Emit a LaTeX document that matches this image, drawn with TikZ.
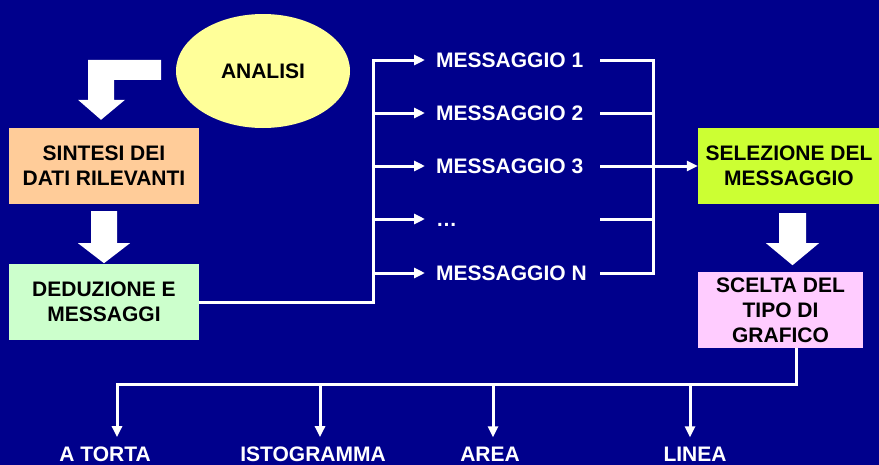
\documentclass[tikz,border=0pt]{standalone}
\usepackage{fontspec}
\setmainfont{Liberation Sans}
\usetikzlibrary{shapes.geometric}
\usetikzlibrary{arrows.meta}
\usetikzlibrary{calc,positioning}
\definecolor{navy}{RGB}{0,0,140}
\definecolor{royal}{RGB}{0,16,232}
\definecolor{cream}{RGB}{255,255,153}
\definecolor{peach}{RGB}{255,204,153}
\definecolor{mint}{RGB}{204,255,204}
\definecolor{lime}{RGB}{204,255,51}
\definecolor{lilac}{RGB}{255,204,255}
\tikzstyle{link} = [draw=white, line width=3pt]
\tikzstyle{feed} = [link, -{Triangle[length=11pt,width=10pt]}]
\tikzstyle{every block} = [draw=none, text=black, align=center, inner sep=0pt, minimum height=76pt, font=\fontsize{21}{25}\selectfont\bfseries]
\tikzstyle{block} = [rectangle, minimum width=190pt, every block]
\tikzstyle{bubble} = [ellipse, fill=cream, every block]
\tikzstyle{message} = [anchor=west, inner sep=0pt, text=white, text height=15pt, text depth=0pt, font=\fontsize{21}{25}\selectfont\bfseries]
\tikzstyle{chart} = [anchor=base, inner sep=0pt, text=white, font=\fontsize{21}{25}\selectfont\bfseries]
\tikzstyle{bigarrow} = [fill=white]
\begin{document}
\begin{tikzpicture} [x=1pt, y=-1pt]

% Background

\useasboundingbox (0,0) rectangle (879,464);
\clip (0,0) rectangle (879,464);
\shade[left color=navy, middle color=royal, right color=navy] (0,0) rectangle (879,464);

% Analysis and synthesis

\node[bubble, minimum width=174pt, minimum height=114pt] (analisi) at (263,71) {ANALISI};

\node[block, fill=peach] (sintesi) at (104,166) {SINTESI DEI\\DATI RILEVANTI};

\node[block, fill=mint] (deduzione) at (104,302) {DEDUZIONE E\\MESSAGGI};

\fill[bigarrow] ($(sintesi.north)+(57,-68)$) -- ++(-73,0) -- ++(0,40) -- ++(-10,0) -- ++(23,20) -- ++(24,-20) -- ++(-11,0) -- ++(0,-20) -- ++(47,0) -- cycle;

\fill[bigarrow] ($(sintesi.south)+(-13,7)$) -- ++(26,0) -- ++(0,32) -- ++(13,0) -- ++(-26,20) -- ++(-26,-20) -- ++(13,0) -- cycle;

% Messages

\node[message] (msga) at (436,60) {MESSAGGIO 1};
\node[message] (msgb) at (436,113) {MESSAGGIO 2};
\node[message] (msgc) at (436,166) {MESSAGGIO 3};
\node[message] (msgd) at (436,219) {…};
\node[message] (msgn) at (436,273) {MESSAGGIO N};

\coordinate (lbus) at (373,302);
\draw[feed, shorten >=11pt] (deduzione.east) -- (lbus) |- (msga.west);
\draw[feed, shorten >=11pt] (lbus |- msgb.west) -- (msgb.west);
\draw[feed, shorten >=11pt] (lbus |- msgc.west) -- (msgc.west);
\draw[feed, shorten >=11pt] (lbus |- msgd.west) -- (msgd.west);
\draw[feed, shorten >=11pt] (lbus |- msgn.west) -- (msgn.west);

% Selection

\node[block, fill=lime, minimum width=182pt] (selezione) at (789,166) {SELEZIONE DEL\\MESSAGGIO};

\node[block, fill=lilac, minimum width=165pt] (scelta) at (780.5,310) {SCELTA DEL\\TIPO DI\\GRAFICO};

\coordinate (rbus) at (653,166);
\draw[link] ([xshift=164pt]msga.west) -| (rbus) |- ([xshift=164pt]msgn.west);
\draw[link] ([xshift=164pt]msgb.west) -- (msgb.west -| rbus);
\draw[link] ([xshift=164pt]msgd.west) -- (msgd.west -| rbus);
\draw[feed] ([xshift=164pt]msgc.west) -- (selezione.west);

\fill[bigarrow] ($(selezione.south)+(-10,9)$) -- ++(27,0) -- ++(0,30) -- ++(13,0) -- ++(-26.5,22) -- ++(-26.5,-22) -- ++(13,0) -- cycle;

% Chart types

\node[chart] (torta) at (105,461) {A TORTA};
\node[chart] (isto) at (313,461) {ISTOGRAMMA};
\node[chart] (area) at (490,461) {AREA};
\node[chart] (linea) at (695,461) {LINEA};

\coordinate (hbus) at (117,384);
\draw[feed, shorten >=9pt] ([xshift=16pt]scelta.south) |- (hbus) -- ([xshift=12pt]torta.north);
\draw[feed, shorten >=9pt] ([xshift=7pt]isto.north |- hbus) -- ([xshift=7pt]isto.north);
\draw[feed, shorten >=9pt] ([xshift=3pt]area.north |- hbus) -- ([xshift=3pt]area.north);
\draw[feed, shorten >=9pt] ([xshift=-5pt]linea.north |- hbus) -- ([xshift=-5pt]linea.north);

\end{tikzpicture}
\end{document}
